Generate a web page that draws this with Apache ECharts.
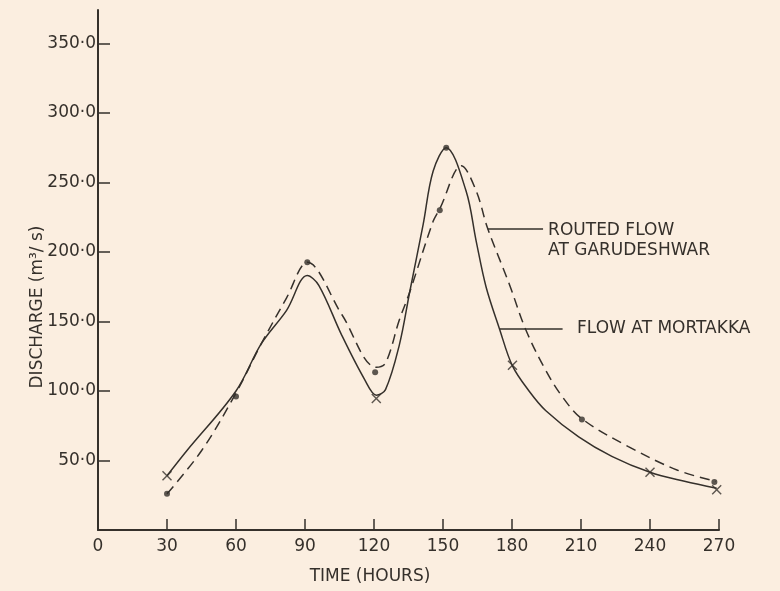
<!DOCTYPE html>
<html>
<head>
<meta charset="utf-8">
<title>Discharge hydrograph</title>
<script src="https://cdn.jsdelivr.net/npm/echarts@6/dist/echarts.min.js"></script>
<style>
html, body { margin: 0; padding: 0; background: #fbeee0; }
#chart { width: 780px; height: 591px; }
</style>
</head>
<body>
<div id="chart"></div>
<script>
// solid curve - flow at Mortakka (hours, m3/s)
var mortakkaT = [30, 38.6, 60, 71, 82, 91, 96, 106, 116, 121, 125, 131, 135.5, 141.4, 145.7, 151.4, 160, 164.4, 168.7, 174.5, 180.2, 187.4, 194.6, 209, 223.4, 240, 255, 269];
var mortakkaQ = [39, 57, 100, 134, 158, 183, 176, 140, 108, 97, 101, 133, 171, 220, 258, 275, 244, 208, 175, 145, 118, 100, 86, 67, 53, 41.5, 35, 30];

// dashed curve - routed flow at Garudeshwar
var routedT = [30, 45, 59.5, 71, 82, 91, 106, 121, 125, 131, 135.5, 145.7, 148.6, 158, 164.4, 169.4, 178.8, 186, 194.6, 201.8, 210.4, 230.6, 252, 268.7];
var routedQ = [26, 57, 97, 134, 167, 192.5, 155, 117, 120, 151, 171, 222, 231, 262, 244, 217, 177, 144, 115, 96, 80, 60, 43, 35];

// plotted points
var dotT = [30, 60, 91, 120.5, 148.6, 151.4, 210.4, 268];
var dotQ = [26, 96, 192.5, 113.5, 230, 275, 79.5, 34.5];
var crossT = [30, 121, 180.2, 240, 269];
var crossQ = [39, 94.5, 118.5, 41.5, 29];

var xTicks = [0, 30, 60, 90, 120, 150, 180, 210, 240, 270];
var yTicks = [50, 100, 150, 200, 250, 300, 350];

function pairs(t, q) {
    var out = [];
    for (var i = 0; i < t.length; i++) out.push([t[i], q[i]]);
    return out;
}

var ink = '#35302b';
var font = 'DejaVu Sans, Liberation Sans, sans-serif';
var crossPath = 'path://M0,1L1,0L5,4L9,0L10,1L6,5L10,9L9,10L5,6L1,10L0,9L4,5Z';

var chart = echarts.init(document.getElementById('chart'));

var option = {
    backgroundColor: '#fbeee0',
    animation: false,
    grid: { left: 98, right: 61, top: 10, bottom: 61 },
    xAxis: {
        type: 'value',
        min: 0,
        max: 270,
        interval: 30,
        splitLine: { show: false },
        axisLine: { lineStyle: { color: ink, width: 2 } },
        axisTick: { inside: true, length: 11, lineStyle: { color: ink, width: 1.5 } },
        axisLabel: { color: ink, fontSize: 17, fontFamily: font, margin: 8, customValues: xTicks }
    },
    yAxis: {
        type: 'value',
        min: 0,
        max: 374,
        splitLine: { show: false },
        axisLine: { show: true, lineStyle: { color: ink, width: 2 } },
        axisTick: { show: true, inside: true, length: 12, customValues: yTicks, lineStyle: { color: ink, width: 1.5 } },
        axisLabel: {
            color: ink, fontSize: 17, fontFamily: font, margin: 2, customValues: yTicks,
            formatter: function (v) { return v + '\u00b70'; }
        }
    },
    series: [
        {
            name: 'Flow at Mortakka',
            type: 'line',
            data: pairs(mortakkaT, mortakkaQ),
            smooth: 0.35,
            showSymbol: false,
            lineStyle: { color: ink, width: 1.5 },
            markLine: {
                silent: true,
                symbol: 'none',
                label: { show: false },
                lineStyle: { color: ink, width: 1.5, type: 'solid' },
                data: [[{ coord: [174.5, 145] }, { coord: [202, 145] }]]
            }
        },
        {
            name: 'Routed flow at Garudeshwar',
            type: 'line',
            data: pairs(routedT, routedQ),
            smooth: 0.35,
            showSymbol: false,
            lineStyle: { color: ink, width: 1.5, type: [10, 6] },
            markLine: {
                silent: true,
                symbol: 'none',
                label: { show: false },
                lineStyle: { color: ink, width: 1.5, type: 'solid' },
                data: [[{ coord: [169.4, 217] }, { coord: [193.5, 217] }]]
            }
        },
        {
            type: 'scatter',
            data: pairs(dotT, dotQ),
            symbol: 'circle',
            symbolSize: 6,
            itemStyle: { color: ink }
        },
        {
            type: 'scatter',
            data: pairs(crossT, crossQ),
            symbol: crossPath,
            symbolSize: 10,
            itemStyle: { color: ink }
        }
    ]
};
chart.setOption(option);

// labels placed through the chart's own scale
var p1 = chart.convertToPixel({ gridIndex: 0 }, [195.7, 215.7]);
var p2 = chart.convertToPixel({ gridIndex: 0 }, [195.7, 201]);
var p3 = chart.convertToPixel({ gridIndex: 0 }, [208.3, 145]);
var txt = function (s, x, y, extra) {
    var el = {
        type: 'text', x: x, y: y,
        style: { text: s, fill: ink, font: '17px ' + font, textAlign: 'left', textVerticalAlign: 'middle' }
    };
    for (var k in extra) el[k] = extra[k];
    return el;
};
chart.setOption({
    graphic: [
        txt('ROUTED FLOW', p1[0], p1[1], {}),
        txt('AT GARUDESHWAR', p2[0], p2[1], {}),
        txt('FLOW AT MORTAKKA', p3[0], p3[1], {}),
        {
            type: 'text', x: 370, y: 577,
            style: { text: 'TIME (HOURS)', fill: ink, font: '17px ' + font, textAlign: 'center', textVerticalAlign: 'middle' }
        },
        {
            type: 'text', x: 38, y: 307, rotation: Math.PI / 2,
            style: { text: 'DISCHARGE (m\u00b3/ s)', fill: ink, font: '17px ' + font, textAlign: 'center', textVerticalAlign: 'middle' }
        }
    ]
});
</script>
</body>
</html>
